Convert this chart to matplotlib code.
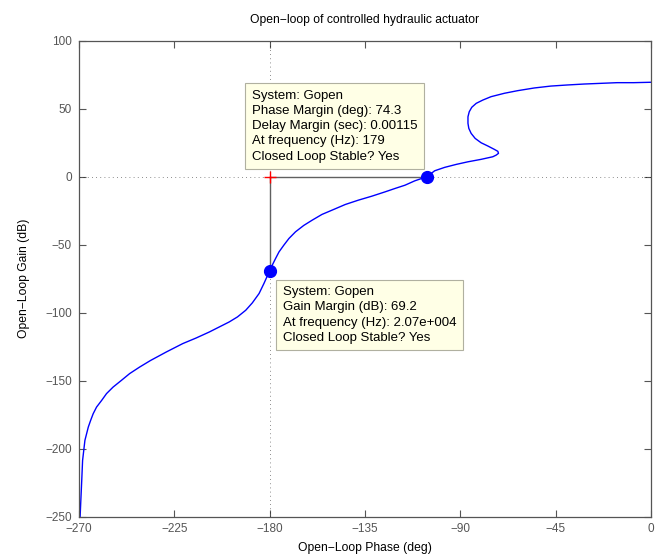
import numpy as np
import matplotlib.pyplot as plt

plt.rcParams['font.family'] = ['Liberation Sans', 'DejaVu Sans']

# open-loop frequency response, phase (deg) vs gain (dB), low to high frequency
phase = [0.0, -8.2, -16.0, -23.8, -31.6, -39.5, -47.3, -55.1, -63.0, -69.2,
         -75.5, -79.4, -82.5, -84.6, -85.8, -86.4, -86.4, -86.0, -84.9, -83.0,
         -80.2, -77.0, -73.9, -72.3, -72.0, -73.1, -74.7, -80.2, -86.4, -91.9,
         -97.4, -102.1, -105.7, -111.5, -116.1, -120.8, -125.5, -131.8, -138.1,
         -144.3, -150.6, -155.3, -160.0, -163.9, -167.8, -170.9, -173.3, -175.6,
         -177.2, -178.8, -180.0, -182.7, -185.0, -188.2, -191.3, -195.2, -199.1,
         -203.8, -208.5, -214.7, -221.0, -228.8, -236.3, -241.4, -246.1, -250.0,
         -253.9, -257.0, -259.3, -261.7, -263.3, -264.5, -265.6, -267.2, -268.3,
         -268.7, -269.2, -269.6]
gain = [69.4, 69.1, 69.1, 68.6, 68.1, 67.4, 66.6, 65.2, 63.2, 61.3,
        58.8, 56.3, 53.9, 51.0, 47.7, 44.0, 39.2, 35.5, 31.8, 28.1,
        24.9, 22.5, 20.0, 18.6, 17.1, 15.8, 14.6, 12.7, 10.9, 9.0,
        6.8, 4.3, 0.0, -3.1, -6.3, -8.7, -11.2, -14.4, -17.3,
        -20.5, -24.7, -27.8, -32.1, -35.9, -40.6, -45.5, -50.4, -55.4,
        -60.2, -65.2, -69.2, -78.6, -86.0, -92.9, -98.3, -103.2, -106.9,
        -110.6, -114.3, -118.7, -122.8, -129.0, -135.3, -140.1, -144.9, -149.9,
        -154.8, -159.6, -164.6, -169.5, -174.4, -179.3, -184.2, -194.0, -208.8,
        -223.5, -240.6, -255.0]

pm_phase = -105.7   # phase crossover point for the phase margin
gm_gain = -69.2     # gain at -180 deg

xticks = [-270, -225, -180, -135, -90, -45, 0]
yticks = [-250, -200, -150, -100, -50, 0, 50, 100]

pm_text = ('System: Gopen\nPhase Margin (deg): 74.3\nDelay Margin (sec): 0.00115\n'
           'At frequency (Hz): 179\nClosed Loop Stable? Yes')
gm_text = ('System: Gopen\nGain Margin (dB): 69.2\n'
           'At frequency (Hz): 2.07e+004\nClosed Loop Stable? Yes')

axcol = '#555555'

fig = plt.figure(figsize=(6.56, 5.57), dpi=100)
ax = fig.add_axes([0.1204, 0.0727, 0.8720, 0.8543])

# critical point guides
ax.axhline(0, color='k', ls=(0, (1, 4)), lw=0.6, alpha=0.6)
ax.axvline(-180, color='k', ls=(0, (1, 4)), lw=0.6, alpha=0.6)
ax.plot([-180, pm_phase], [0, 0], color='#606060', lw=1.0)
ax.plot([-180, -180], [0, gm_gain], color='#606060', lw=1.0)

ax.plot(phase, gain, color='#0000ff', lw=1.0)
ax.plot([-180], [0], marker='+', color='r', ms=9, mew=1.0)
ax.plot([pm_phase], [0], 'o', color='#0000ff', ms=8.5)
ax.plot([-180], [gm_gain], 'o', color='#0000ff', ms=8.5)

box = dict(boxstyle='square,pad=0.5', fc='#ffffe6', ec='#b0b0a0', lw=0.8)
ax.annotate(pm_text, xy=(-180, 0), xytext=(-18, 14), textcoords='offset pixels',
            ha='left', va='bottom', fontsize=9.5, linespacing=1.35, bbox=box)
ax.annotate(gm_text, xy=(-180, gm_gain), xytext=(13, -73), textcoords='offset pixels',
            ha='left', va='bottom', fontsize=9.5, linespacing=1.35, bbox=box)

ax.set_xlim(-270, 0)
ax.set_ylim(-250, 100)
ax.set_xticks(xticks)
ax.set_yticks(yticks)
ax.tick_params(direction='in', top=True, right=True, length=5, width=0.8,
               colors=axcol, labelsize=8.5, pad=5)
for s in ax.spines.values():
    s.set_color(axcol)
    s.set_linewidth(0.9)

ax.set_title('Open\u2212loop of controlled hydraulic actuator', fontsize=8.7, pad=13)
ax.set_xlabel('Open\u2212Loop Phase (deg)', fontsize=8.7, labelpad=5)
ax.set_ylabel('Open\u2212Loop Gain (dB)', fontsize=8.7, labelpad=11)

fig.savefig('out.png', dpi=100)
